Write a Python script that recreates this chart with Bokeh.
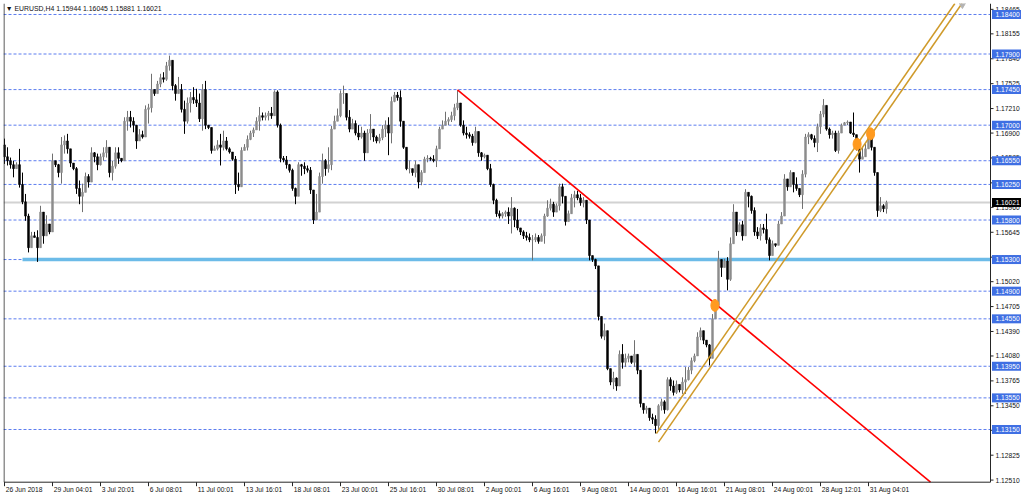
import numpy as np
from bokeh.plotting import figure
from bokeh.models import Range1d, ColumnDataSource
from bokeh.embed import file_html
from bokeh.resources import INLINE
from bokeh.core.properties import value

FONT = "Liberation Sans"
BASE = 1.1      # prices below are in pips (0.0001) above this base
PIP = 0.0001

first_open = 675

high_pips = [
    683, 672, 659, 655, 653, 670, 640, 613, 588, 565,
    565, 567, 598, 583, 586, 571, 664, 653, 651, 685,
    687, 689, 668, 649, 647, 630, 626, 640, 638, 672,
    666, 664, 664, 672, 681, 664, 655, 672, 672, 657,
    710, 718, 718, 710, 699, 695, 693, 725, 727, 765,
    744, 756, 765, 767, 780, 788, 777, 752, 761, 752,
    731, 735, 742, 748, 746, 740, 752, 756, 699, 697,
    674, 681, 689, 693, 685, 672, 666, 661, 640, 672,
    676, 687, 693, 697, 710, 723, 716, 716, 718, 723,
    744, 744, 702, 661, 661, 651, 645, 621, 653, 651,
    653, 649, 647, 615, 613, 640, 664, 657, 672, 699,
    712, 721, 744,
    750, 736, 719, 708, 706, 700, 698, 693, 695, 714,
    693, 687, 689, 700, 706, 710, 736, 742, 742, 744,
    698, 662, 655, 643, 655, 647, 643, 660, 662, 660,
    662, 674, 698, 706, 717, 710, 717, 727, 744, 727,
    706, 698, 691, 689, 698, 685, 666, 664, 662, 651,
    626, 607, 592, 590, 592, 596, 609, 596, 594, 569,
    567, 565, 563, 561, 563, 561, 563, 588, 605, 607,
    603, 601, 626, 626, 601, 592, 613, 617, 617, 613,
    609, 601, 580, 533, 531, 520,
    457, 449, 436, 385, 388, 381, 415, 423, 411, 411,
    406, 428, 402, 388, 347, 345, 339, 335, 333, 347,
    354, 352, 381, 381, 377, 377, 368, 381, 394, 394,
    406, 411, 438, 444, 432, 428, 423, 461, 478, 541,
    529, 531, 533, 558, 600, 571, 577, 579, 619, 615,
    611, 596, 571, 575, 575, 588, 558,
    554, 550, 579, 590, 638, 626, 643, 634, 634, 617,
    643, 689, 691, 689, 687, 702, 718, 733, 718, 697,
    693, 693, 693, 702, 704, 706, 702, 716, 685, 676,
    672, 676, 691, 693, 672, 638, 609, 600, 604.5,
]

low_pips = [
    651, 649, 645, 634, 645, 621, 600, 579, 539, 552,
    558, 527, 554, 550, 569, 562, 571, 647, 634, 626,
    664, 664, 647, 643, 613, 600, 590, 632, 621, 634,
    653, 643, 649, 655, 659, 634, 630, 645, 651, 653,
    657, 693, 697, 691, 670, 685, 683, 685, 702, 716,
    737, 740, 748, 754, 756, 769, 744, 731, 740, 716,
    689, 702, 716, 727, 723, 704, 693, 695, 695, 664,
    668, 668, 649, 668, 668, 664, 655, 613, 617, 638,
    668, 668, 681, 685, 695, 693, 706, 706, 706, 708,
    714, 697, 653, 653, 645, 640, 617, 600, 621, 636,
    638, 640, 613, 575, 586, 605, 626, 636, 640, 643,
    697, 706, 710,
    727, 706, 691, 698, 687, 681, 683, 655, 677, 681,
    679, 677, 677, 681, 685, 662, 677, 729, 731, 698,
    670, 643, 639, 636, 634, 620, 624, 643, 653, 655,
    653, 647, 672, 695, 700, 700, 704, 706, 719, 698,
    687, 683, 683, 674, 677, 660, 655, 658, 643, 622,
    600, 584, 582, 582, 584, 575, 563, 571, 567, 561,
    556, 554, 552, 529, 552, 550, 554, 550, 584, 592,
    584, 596, 592, 601, 573, 582, 588, 596, 605, 598,
    596, 575, 529, 527, 518, 453,
    430, 428, 390, 371, 366, 364, 377, 392, 394, 400,
    398, 394, 385, 343, 335, 335, 326, 322, 310, 314,
    339, 335, 339, 364, 358, 360, 362, 360, 360, 377,
    385, 400, 408, 428, 423, 419, 396, 419, 457, 478,
    508, 525, 491, 503, 558, 560, 569, 554, 571, 596,
    588, 560, 556, 554, 563, 550, 529,
    541, 546, 554, 575, 588, 617, 630, 615, 617, 609,
    594, 634, 676, 681, 672, 666, 689, 710, 693, 683,
    683, 666, 664, 691, 702, 700, 689, 685, 668, 640,
    657, 661, 676, 668, 636, 584, 590, 590, 588.1,
]

close_pips = [
    660, 655, 650, 645, 650, 625, 603, 585, 545, 560,
    558, 545, 590, 560, 575, 565, 655, 650, 640, 675,
    680, 670, 652, 645, 620, 610, 615, 635, 628, 665,
    660, 650, 660, 665, 672, 640, 648, 665, 658, 655,
    705, 710, 705, 700, 680, 688, 685, 720, 722, 745,
    740, 752, 760, 758, 775, 782, 750, 740, 745, 720,
    705, 728, 735, 732, 728, 708, 745, 700, 697, 668,
    670, 675, 672, 680, 670, 666, 657, 625, 622, 668,
    672, 682, 690, 694, 705, 712, 710, 712, 715, 712,
    742, 700, 658, 656, 650, 643, 620, 610, 650, 648,
    645, 643, 618, 580, 590, 635, 655, 645, 650, 695,
    705, 712, 740,
    740, 710, 695, 702, 690, 685, 690, 665, 690, 695,
    685, 680, 684, 695, 700, 690, 730, 738, 735, 705,
    672, 645, 645, 640, 650, 628, 640, 657, 658, 657,
    655, 670, 695, 700, 705, 707, 712, 722, 728, 700,
    690, 688, 686, 678, 692, 665, 660, 662, 645, 625,
    605, 588, 585, 588, 590, 585, 595, 580, 570, 565,
    560, 558, 555, 555, 558, 553, 560, 585, 595, 600,
    590, 598, 622, 610, 578, 588, 608, 612, 608, 602,
    605, 580, 535, 530, 522, 458,
    433, 440, 392, 375, 380, 370, 410, 400, 405, 408,
    400, 410, 390, 348, 340, 342, 330, 328, 320, 345,
    350, 340, 378, 370, 362, 372, 365, 375, 378, 390,
    402, 408, 432, 440, 428, 422, 405, 455, 472, 530,
    520, 528, 505, 550, 590, 565, 574, 560, 615, 610,
    592, 565, 560, 570, 568, 555, 535,
    550, 548, 575, 585, 632, 622, 640, 625, 620, 612,
    638, 685, 688, 683, 678, 698, 714, 725, 695, 688,
    690, 668, 690, 700, 703, 704, 690, 688, 670, 657,
    660, 670, 690, 672, 640, 592, 598, 594.4, 602.1,
]

x_tick_labels = ["26 Jun 2018", "29 Jun 04:01", "3 Jul 20:01", "6 Jul 08:01", "11 Jul 00:01",
                 "13 Jul 16:01", "18 Jul 08:01", "23 Jul 00:01", "25 Jul 16:01", "30 Jul 08:01",
                 "2 Aug 00:01", "6 Aug 16:01", "9 Aug 08:01", "14 Aug 00:01", "16 Aug 16:01",
                 "21 Aug 08:01", "24 Aug 00:01", "28 Aug 12:01", "31 Aug 04:01"]
x_tick_bars = [16 * i for i in range(len(x_tick_labels))]

price_ticks = [1.12510, 1.12825, 1.13140, 1.13450, 1.13765, 1.14080, 1.14390, 1.14705,
               1.15020, 1.15330, 1.15645, 1.15960, 1.16270, 1.16585, 1.16900, 1.17210,
               1.17525, 1.17840, 1.18155, 1.18465]

levels = [1.18400, 1.17900, 1.17450, 1.17000, 1.16550, 1.16250, 1.15800,
          1.15300, 1.14900, 1.14550, 1.13950, 1.13550, 1.13150]
support_level = 1.15300
support_start_bar = 6
current_price = 1.16021

red_x = [151.0, 236.8]
red_y = [1.17445, 1.14745]
chan_a_x = [217.3, 298.7]
chan_a_y = [1.13100, 1.17550]
chan_b_x = [218.0, 301.3]
chan_b_y = [1.12990, 1.17560]
marker_x = [236.8, 284.2, 288.7]
marker_y = [1.14720, 1.16760, 1.16890]

header = "\u25BC EURUSD,H4  1.15944 1.16045 1.15881 1.16021"

# ---------------------------------------------------------------
# screen geometry (pixels) -> data ranges
PX_PER_BAR = 3.0
PX_PER_PRICE = 7905.0
X0, X1 = -1 / 3, 339.0                     # whole canvas width
Y1 = 1.18539                               # canvas top
Y0 = Y1 - 493 / PX_PER_PRICE               # canvas bottom
XE = 328.67                                # right edge of the chart area (price scale border)
YB = 1.124834                              # bottom edge of the chart area (time scale border)
dx = 1 / PX_PER_BAR                        # one pixel in bar units
dy = 1 / PX_PER_PRICE                      # one pixel in price units

close = BASE + np.array(close_pips, dtype=float) * PIP
high = BASE + np.array(high_pips, dtype=float) * PIP
low = BASE + np.array(low_pips, dtype=float) * PIP
op = np.concatenate([[BASE + first_open * PIP], close[:-1]])
hi = np.maximum(np.maximum(high, op), close)
lo = np.minimum(np.minimum(low, op), close)
bars = np.arange(len(close))
inc = close >= op
src = ColumnDataSource(dict(
    x=bars, hi=hi, lo=lo,
    top=np.maximum(op, close), bot=np.minimum(op, close),
    wick=np.where(inc, "#707070", "#000000"),
    body=np.where(inc, "#8e8e8e", "#000000"),
))

p = figure(frame_width=1018, frame_height=493, output_backend="svg", toolbar_location=None,
           x_range=Range1d(X0, X1), y_range=Range1d(Y0, Y1),
           x_axis_location=None, y_axis_location=None,
           min_border_left=0, min_border_top=0, min_border_right=0, min_border_bottom=0,
           background_fill_color="white", border_fill_color="white")
p.margin = (3, 0, 0, 3)
p.xgrid.visible = False
p.ygrid.visible = False
p.outline_line_color = None

TXT = dict(text_font=value(FONT), text_font_size=value("6.7px"), text_align="left",
           text_baseline="middle")

# horizontal levels
n = len(levels)
p.segment(x0=[X0] * n, y0=levels, x1=[XE] * n, y1=levels, line_color="#3f66ec",
          line_alpha=0.85, line_width=1, line_dash="3 2")
p.segment(x0=[X0], y0=[current_price], x1=[XE], y1=[current_price], line_color="#d2d2d2",
          line_width=2)
p.segment(x0=[support_start_bar], y0=[support_level], x1=[XE], y1=[support_level],
          line_color="#6cbbe8", line_width=3.5)

# candles
p.segment(x0="x", y0="lo", x1="x", y1="hi", line_color="wick", line_width=1, source=src)
p.vbar(x="x", width=0.62, top="top", bottom="bot", fill_color="body", line_color="body",
       line_width=0.6, source=src)


def ray(xs, ys):
    slope = (ys[1] - ys[0]) / (xs[1] - xs[0])
    limit = YB if slope < 0 else Y1
    x_end = min(XE, xs[0] + (limit - ys[0]) / slope)
    return [xs[0], x_end], [ys[0], ys[0] + slope * (x_end - xs[0])]


rx, ry = ray(red_x, red_y)
p.line(rx, ry, line_color="#ff0000", line_width=1.6)
for cx, cy in ((chan_a_x, chan_a_y), (chan_b_x, chan_b_y)):
    ax, ay = ray(cx, cy)
    p.line(ax, ay, line_color="#cf9a2a", line_width=1.5)

p.ellipse(x=marker_x, y=marker_y, width=8, height=12, width_units="screen",
          height_units="screen", fill_color="#ff9a1f", line_color="#ff9a1f")
p.scatter(x=[319.3], y=[Y1 - 1 * dy], marker="inverted_triangle", size=7, color="#b4b4b4")

# chart area border
p.line([X0 + 0.5 * dx, X0 + 0.5 * dx, XE, XE], [Y1, YB, YB, Y1], line_color="#262626",
       line_width=1)

# price scale
m = len(price_ticks)
p.segment(x0=[XE] * m, y0=price_ticks, x1=[XE + 3 * dx] * m, y1=price_ticks,
          line_color="#262626", line_width=1)
p.text(x=[XE + 5 * dx] * m, y=price_ticks, text=[f"{t:.5f}" for t in price_ticks],
       text_color="#111111", **TXT)
p.rect(x=[XE + 16.5 * dx] * n, y=levels, width=30, height=9, width_units="screen",
       height_units="screen", fill_color="#3f6fe3", line_color=None)
p.text(x=[XE + 5 * dx] * n, y=levels, text=[f"{lv:.5f}" for lv in levels],
       text_color="white", **TXT)
p.rect(x=[XE + 16.5 * dx], y=[current_price], width=30, height=9, width_units="screen",
       height_units="screen", fill_color="#000000", line_color=None)
p.text(x=[XE + 5 * dx], y=[current_price], text=[f"{current_price:.5f}"],
       text_color="white", **TXT)

# time scale
k = len(x_tick_bars)
p.segment(x0=x_tick_bars, y0=[YB] * k, x1=x_tick_bars, y1=[YB - 4 * dy] * k,
          line_color="#262626", line_width=1)
p.text(x=[b + 0.4 for b in x_tick_bars], y=[YB - 7.5 * dy] * k, text=x_tick_labels,
       text_color="#111111", **TXT)

# header
p.text(x=[0.4], y=[Y1 - 5 * dy], text=[header], text_color="#111111",
       text_font=value(FONT), text_font_size=value("6.9px"), text_align="left",
       text_baseline="middle")

open("out.html", "w").write(file_html(p, INLINE))
